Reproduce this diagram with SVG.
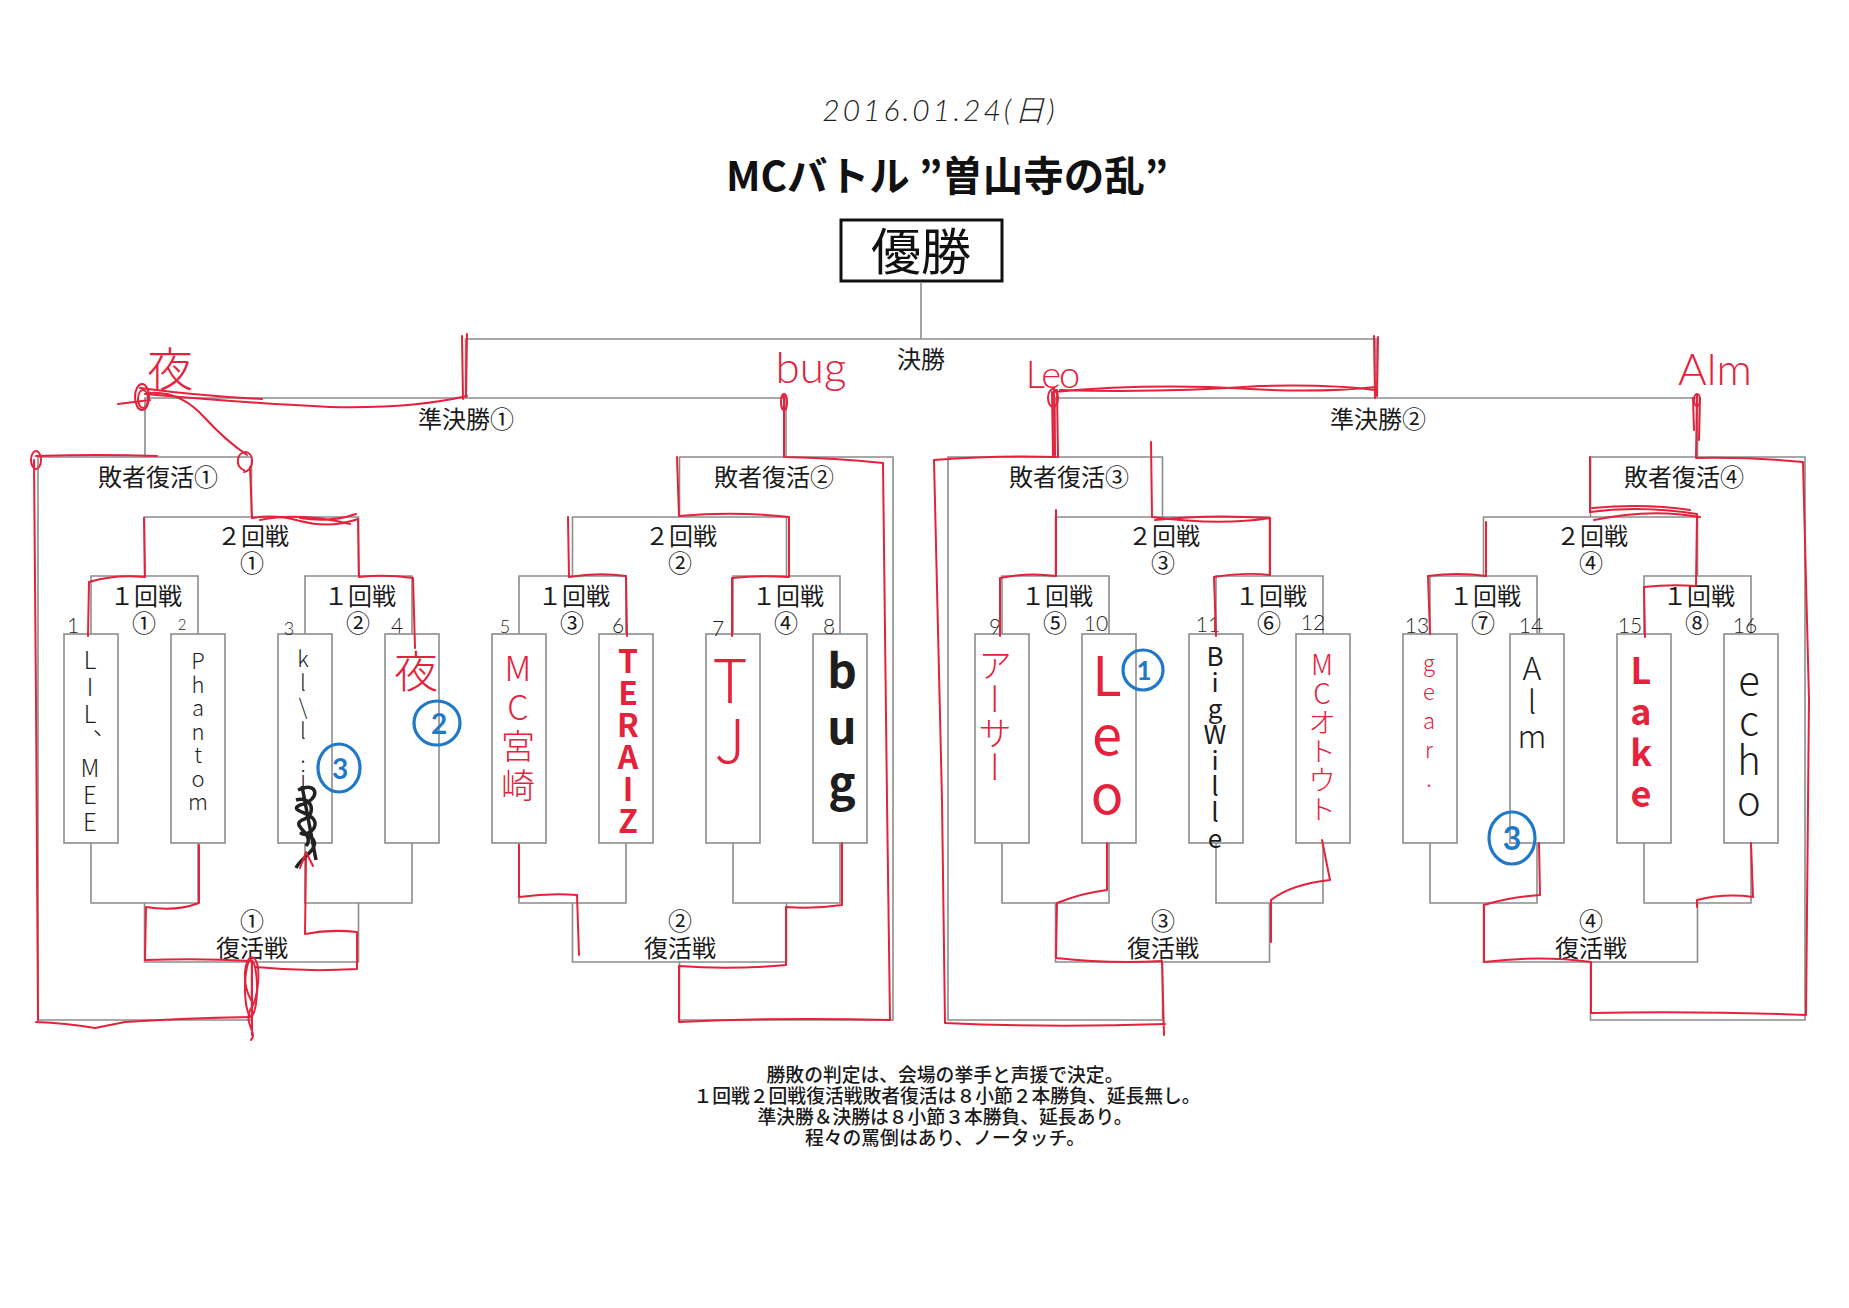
<svg xmlns="http://www.w3.org/2000/svg" width="1849" height="1308" viewBox="0 0 1849 1308">
<style>
.g{stroke:#8c8c8c;stroke-width:1.6;fill:none}
.box{fill:#fff;stroke:#8c8c8c;stroke-width:1.6}
.lbl{font-family:"Liberation Sans","Noto Sans CJK JP",sans-serif;font-size:24px;fill:#1a1a1a;text-anchor:middle}
.rule{font-family:"Liberation Serif","Noto Sans CJK JP",sans-serif;font-size:18.8px;font-weight:500;fill:#1a1a1a;text-anchor:middle}
.red{stroke:#e5213c;stroke-width:2;fill:none;stroke-linecap:round;stroke-linejoin:round}
.blue{stroke:#1f78c8;stroke-width:3.2;fill:none}
.bd{font-family:Lato,"Liberation Sans",sans-serif;font-weight:700;fill:#1f78c8;text-anchor:middle;font-size:28px}
.hw{font-family:Lato,"Noto Sans CJK JP",sans-serif;font-weight:300;text-anchor:middle}
.hwj{font-family:"Noto Sans CJK JP",sans-serif;font-weight:300}
.r{fill:#e5213c}
.k{fill:#1e1e1e}
.mk{font-weight:700}
.vt{writing-mode:vertical-rl;text-orientation:upright;text-anchor:start}
.num{font-family:Lato,"Liberation Sans",sans-serif;font-weight:300;fill:#1e1e1e;text-anchor:middle;font-size:21px}
</style>
<rect width="1849" height="1308" fill="#fff"/>

<g id="date"><text class="hw k" x="940" y="121" style="font-size:30px;letter-spacing:3px;font-style:italic">2016.01.24(日)</text></g>
<g id="title"><text x="947" y="191" style="font-family:'Noto Sans CJK JP',sans-serif;font-weight:700;font-size:40.5px;fill:#111;text-anchor:middle">MCバトル ”曽山寺の乱”</text></g>
<g id="champion"><rect x="841" y="220" width="161" height="61" fill="#fff" stroke="#111" stroke-width="3"/><text x="921" y="270" style="font-family:'Noto Sans CJK JP',sans-serif;font-size:50px;fill:#111;text-anchor:middle">優勝</text></g>

<g id="connectors">
<path class="g" d="M921 282V339M465.5 398V339H1376V398"/>
<path class="g" d="M145 457V398H786V457M1055 457V398H1697.5V457"/>
<path class="g" d="M251.5 517V457H38V1020H251.5V962M679.5 517V457H893V1020H679.5V962M1162.5 517V457H948V1020H1162.5V962M1590.5 517V457H1805V1020H1590.5V962"/>
<path class="g" d="M144.5 576V517H358.5V576M572.5 576V517H786.5V576M1055.5 576V517H1269.5V576M1483.5 576V517H1697.5V576"/>
<path class="g" d="M144.5 903V962H358.5V903M572.5 903V962H786.5V903M1055.5 903V962H1269.5V903M1483.5 903V962H1697.5V903"/>
<path class="g" d="M91 634V576H198V634M305 634V576H412V634M519 634V576H626V634M733 634V576H840V634M1002 634V576H1109V634M1216 634V576H1323V634M1430 634V576H1537V634M1644 634V576H1751V634"/>
<path class="g" d="M91 843V903H198V843M305 843V903H412V843M519 843V903H626V843M733 843V903H840V843M1002 843V903H1109V843M1216 843V903H1323V843M1430 843V903H1537V843M1644 843V903H1751V843"/>
</g>

<g id="labels">
<g id="final"><text class="lbl" x="921" y="368">決勝</text></g>
<g id="semi1"><text class="lbl" x="466" y="428">準決勝①</text></g>
<g id="semi2"><text class="lbl" x="1378" y="428">準決勝②</text></g>
<g id="rep1"><text class="lbl" x="158" y="486">敗者復活①</text></g>
<g id="rep2"><text class="lbl" x="774" y="486">敗者復活②</text></g>
<g id="rep3"><text class="lbl" x="1069" y="486">敗者復活③</text></g>
<g id="rep4"><text class="lbl" x="1684" y="486">敗者復活④</text></g>
<g id="r2-1"><text class="lbl"><tspan x="253" y="545">２回戦</tspan><tspan x="252" y="572">①</tspan></text></g>
<g id="r2-2"><text class="lbl"><tspan x="681" y="545">２回戦</tspan><tspan x="680" y="572">②</tspan></text></g>
<g id="r2-3"><text class="lbl"><tspan x="1164" y="545">２回戦</tspan><tspan x="1163" y="572">③</tspan></text></g>
<g id="r2-4"><text class="lbl"><tspan x="1592" y="545">２回戦</tspan><tspan x="1591" y="572">④</tspan></text></g>
<g id="r1-1"><text class="lbl"><tspan x="146" y="605">１回戦</tspan><tspan x="144" y="632">①</tspan></text></g>
<g id="r1-2"><text class="lbl"><tspan x="360" y="605">１回戦</tspan><tspan x="358" y="632">②</tspan></text></g>
<g id="r1-3"><text class="lbl"><tspan x="574" y="605">１回戦</tspan><tspan x="572" y="632">③</tspan></text></g>
<g id="r1-4"><text class="lbl"><tspan x="788" y="605">１回戦</tspan><tspan x="786" y="632">④</tspan></text></g>
<g id="r1-5"><text class="lbl"><tspan x="1057" y="605">１回戦</tspan><tspan x="1055" y="632">⑤</tspan></text></g>
<g id="r1-6"><text class="lbl"><tspan x="1271" y="605">１回戦</tspan><tspan x="1269" y="632">⑥</tspan></text></g>
<g id="r1-7"><text class="lbl"><tspan x="1485" y="605">１回戦</tspan><tspan x="1483" y="632">⑦</tspan></text></g>
<g id="r1-8"><text class="lbl"><tspan x="1699" y="605">１回戦</tspan><tspan x="1697" y="632">⑧</tspan></text></g>
<g id="rev1"><text class="lbl"><tspan x="252" y="930">①</tspan><tspan x="252" y="957">復活戦</tspan></text></g>
<g id="rev2"><text class="lbl"><tspan x="680" y="930">②</tspan><tspan x="680" y="957">復活戦</tspan></text></g>
<g id="rev3"><text class="lbl"><tspan x="1163" y="930">③</tspan><tspan x="1163" y="957">復活戦</tspan></text></g>
<g id="rev4"><text class="lbl"><tspan x="1591" y="930">④</tspan><tspan x="1591" y="957">復活戦</tspan></text></g>
</g>

<g id="players">
<g id="p1"><rect class="box" x="64" y="634" width="54" height="209"/><text class="num" x="73" y="633">1</text>
<text class="hwj k vt" x="90" y="648" style="font-size:24px;letter-spacing:3px">LIL、MEE</text></g>
<g id="p2"><rect class="box" x="171" y="634" width="54" height="209"/><text class="num" x="182" y="630" style="font-size:15px">2</text>
<text class="hwj k vt" x="198" y="650" style="font-size:22px;letter-spacing:1.5px">Phantom</text></g>
<g id="p3"><rect class="box" x="278" y="634" width="54" height="209"/><text class="num" x="289" y="635" style="font-size:18px">3</text>
<text class="hwj k vt" x="303" y="648" style="font-size:22px;letter-spacing:2px">kl\l.i</text>
<path d="M298 790C318 780 322 800 300 805C285 812 322 812 314 828C304 842 292 826 312 838C322 848 300 858 296 868M302 786L316 860M296 800C312 795 318 815 302 820C290 826 316 834 306 846" stroke="#222" stroke-width="3.5" fill="none"/></g>
<g id="p4"><rect class="box" x="385" y="634" width="54" height="209"/><text class="num" x="397" y="633">4</text>
<text class="hwj r" x="416" y="688" style="font-size:44px;text-anchor:middle">夜</text></g>
<g id="p5"><rect class="box" x="492" y="634" width="54" height="209"/><text class="num" x="505" y="633" style="font-size:18px">5</text>
<text class="hwj r vt" x="518" y="651" style="font-size:34px;letter-spacing:5px">MC宮崎</text></g>
<g id="p6"><rect class="box" x="599" y="634" width="54" height="209"/><text class="num" x="618" y="633">6</text>
<text class="hwj r vt mk" x="628" y="645" style="font-size:32px">TERAIZ</text></g>
<g id="p7"><rect class="box" x="706" y="634" width="54" height="209"/><text class="num" x="718" y="636">7</text>
<text class="hwj r vt" x="730" y="650" style="font-size:60px">TJ</text></g>
<g id="p8"><rect class="box" x="813" y="634" width="54" height="209"/><text class="num" x="829" y="634">8</text>
<text class="hwj k vt mk" x="842" y="648" style="font-size:46px;letter-spacing:10px">bug</text></g>
<g id="p9"><rect class="box" x="975" y="634" width="54" height="209"/><text class="num" x="995" y="634">9</text>
<text class="hwj r vt" x="995" y="648" style="font-size:34px">アーサー</text></g>
<g id="p10"><rect class="box" x="1082" y="634" width="54" height="209"/><text class="num" x="1096" y="631">10</text>
<text class="hwj r vt" x="1107" y="648" style="font-size:54px;letter-spacing:5px;font-weight:400">Leo</text></g>
<g id="p11"><rect class="box" x="1189" y="634" width="54" height="209"/><text class="num" x="1208" y="632">11</text>
<text class="hwj k vt" x="1215" y="643" style="font-size:26px;font-weight:400">BigWille</text></g>
<g id="p12"><rect class="box" x="1296" y="634" width="54" height="209"/><text class="num" x="1313" y="630">12</text>
<text class="hwj r vt" x="1322" y="650" style="font-size:28px;letter-spacing:1px">MCオトウト</text></g>
<g id="p13"><rect class="box" x="1403" y="634" width="54" height="209"/><text class="num" x="1417" y="633">13</text>
<text class="hwj r vt" x="1429" y="652" style="font-size:22px;letter-spacing:7px">gear.</text></g>
<g id="p14"><rect class="box" x="1510" y="634" width="54" height="209"/><text class="num" x="1531" y="633">14</text>
<text class="hwj k vt" x="1532" y="652" style="font-size:32px;letter-spacing:2px">Alm</text></g>
<g id="p15"><rect class="box" x="1617" y="634" width="54" height="209"/><text class="num" x="1630" y="633">15</text>
<text class="hwj r vt mk" x="1641" y="652" style="font-size:36px;letter-spacing:5px">Lake</text></g>
<g id="p16"><rect class="box" x="1724" y="634" width="54" height="209"/><text class="num" x="1745" y="633">16</text>
<text class="hwj k vt" x="1749" y="660" style="font-size:40px">echo</text></g>
</g>

<g id="red-marks">
<path class="red" d="M88 636L89 582Q115 574 145 577L144 518"/>
<path class="red" d="M415 648L413 578Q385 574 359 577L358 519Q330 529 300 521Q275 514 252 518L250 467"/>
<path class="red" d="M300 518Q330 523 356 514M260 520Q300 512 350 524"/>
<path class="red" d="M244 470C235 468 236 452 246 452C255 454 254 470 244 472"/>
<path class="red" d="M247 455Q225 440 205 418Q180 390 148 393"/>
<ellipse class="red" cx="142" cy="397" rx="7" ry="13"/>
<ellipse class="red" cx="143" cy="399" rx="5" ry="9"/>
<path class="red" d="M145 394Q260 404 330 407Q410 409 467 396M140 388Q200 396 262 399M118 404L150 400"/>
<path class="red" d="M462 336L463 399M467 334L466 397"/>
<path class="red" d="M38 1020L36 700L34 460M36 456Q100 454 157 456"/>
<ellipse class="red" cx="36" cy="460" rx="5" ry="9"/>
<path class="red" d="M36 1022Q65 1023 95 1028Q110 1025 125 1022Q185 1018 252 1017"/>
<path class="red" d="M252 962L252 1035M251 1000C240 980 246 952 254 958C262 966 258 1000 250 1010C244 1025 258 1033 251 1040"/>
<ellipse class="red" cx="251" cy="988" rx="6" ry="28"/>
<path class="red" d="M199 845L199 903Q175 912 146 907L145 960Q200 958 252 961"/>
<path class="red" d="M306 858L305 934Q330 929 357 932L357 969Q305 972 256 967M300 868L306 852L313 866"/>
<path class="red" d="M627 636L626 576Q598 572 569 577L568 517"/>
<path class="red" d="M732 636L732 578Q760 575 789 577L789 517Q735 511 679 516L677 457"/>
<path class="red" d="M842 843L842 905Q815 909 786 907L786 965Q730 970 679 966L679 1022Q780 1017 890 1020L887 800L883 463Q835 458 784 457L784 396"/>
<ellipse class="red" cx="784" cy="402" rx="3" ry="8"/>
<path class="red" d="M519 845L519 897Q550 893 577 895L579 955"/>
<path class="red" d="M1000 636L1000 578Q1028 572 1056 576L1056 510"/>
<path class="red" d="M1216 636L1214 577Q1245 572 1270 575L1270 518Q1220 526 1152 517L1151 442M1155 520Q1210 514 1268 518"/>
<path class="red" d="M1322 840L1330 880Q1292 884 1271 900L1271 942"/>
<path class="red" d="M1107 843L1107 890Q1082 893 1057 903L1056 958Q1110 964 1162 961L1164 1035M1165 1024Q1050 1028 945 1023L942 800L934 460Q1000 455 1056 457"/>
<path class="red" d="M1053 457L1052 392M1058 457L1057 390M1055 455L1054 388"/>
<ellipse class="red" cx="1053" cy="398" rx="5" ry="9"/>
<path class="red" d="M1054 392Q1150 383 1250 389Q1320 393 1376 387M1060 390Q1160 393 1260 386Q1330 384 1375 390"/>
<path class="red" d="M1374 336L1375 398M1378 337L1377 396"/>
<path class="red" d="M1430 634L1428 576Q1458 572 1486 576L1486 522"/>
<path class="red" d="M1645 637L1644 587Q1670 584 1696 586L1697 514Q1640 505 1590 512L1590 457M1594 520Q1650 508 1700 517M1592 508Q1645 503 1690 510"/>
<path class="red" d="M1539 843L1540 895Q1510 897 1484 905L1484 962Q1540 955 1591 962L1591 1013Q1700 1011 1806 1015L1809 700L1803 462Q1750 457 1696 458L1697 395M1693 398L1694 430M1700 398L1699 440"/>
<ellipse class="red" cx="1697" cy="400" rx="3" ry="6"/>
<path class="red" d="M1751 843L1753 897Q1725 893 1697 900L1697 907"/>
<text class="hwj r" x="170" y="386" style="font-size:46px;text-anchor:middle">夜</text>
<text class="hw r" x="811" y="383" style="font-size:44px">bug</text>
<text class="hw r" x="1052" y="388" style="font-size:38px;letter-spacing:-2px">Leo</text>
<text class="hw r" x="1715" y="385" style="font-size:44px">Alm</text>
</g>

<g id="blue-marks">
<ellipse class="blue" cx="437" cy="723" rx="23" ry="22"/><text class="bd" x="439" y="734">2</text>
<ellipse class="blue" cx="339" cy="768" rx="21" ry="24"/><text class="bd" x="340" y="779">3</text>
<ellipse class="blue" cx="1143" cy="670" rx="20" ry="20"/><text class="bd" x="1144" y="680" style="font-size:26px">1</text>
<ellipse class="blue" cx="1512" cy="838" rx="23" ry="26"/><text class="bd" x="1512" y="850" style="font-size:32px">3</text>
</g>

<g id="rules">
<text class="rule"><tspan x="945" y="1082">勝敗の判定は、会場の挙手と声援で決定。</tspan><tspan x="947" y="1103">１回戦２回戦復活戦敗者復活は８小節２本勝負、延長無し。</tspan><tspan x="945" y="1124">準決勝＆決勝は８小節３本勝負、延長あり。</tspan><tspan x="945" y="1145">程々の罵倒はあり、ノータッチ。</tspan></text>
</g>
</svg>
